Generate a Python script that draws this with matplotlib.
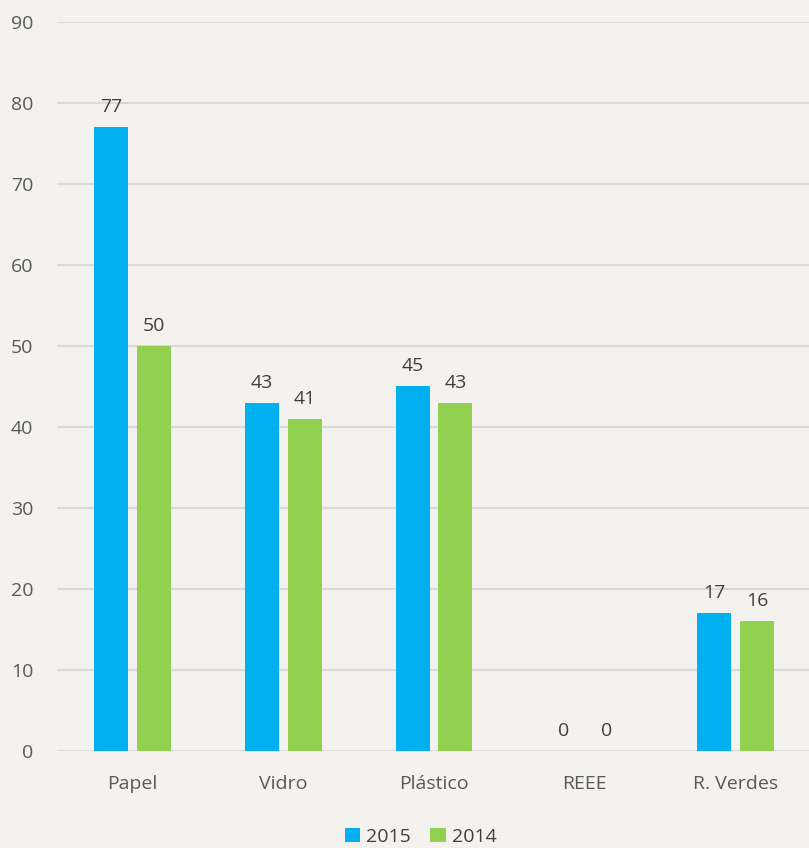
import matplotlib.pyplot as plt
import numpy as np

categories = ['Papel', 'Vidro', 'Plástico', 'REEE', 'R. Verdes']
values_2015 = [77, 43, 45, 0, 17]
values_2014 = [50, 41, 43, 0, 16]

BLUE = '#00b0f0'
GREEN = '#92d050'
BG = '#f4f2ee'
TEXT = '#595959'

plt.rcParams['font.family'] = ['Open Sans', 'DejaVu Sans']

fig = plt.figure(figsize=(8.09, 8.48), dpi=100, facecolor=BG)
ax = fig.add_axes([0.0705, 0.1144, 0.932, 0.8597], facecolor=BG)

x = np.arange(len(categories))
width = 0.225
offset = 0.142
bars1 = ax.bar(x - offset, values_2015, width, color=BLUE, label='2015', zorder=3)
bars2 = ax.bar(x + offset, values_2014, width, color=GREEN, label='2014', zorder=3)

for bars in (bars1, bars2):
    for b in bars:
        ax.annotate(f'{int(b.get_height())}', (b.get_x() + b.get_width() / 2, b.get_height()),
                    xytext=(0, 8), textcoords='offset points', ha='center', va='bottom',
                    fontsize=14, color='#404040')

ax.set_ylim(0, 90)
ax.set_xlim(-0.5, len(categories) - 0.5)
ax.set_yticks(range(0, 91, 10))
ax.set_xticks(x)
ax.set_xticklabels(categories)
ax.yaxis.grid(True, color='#d9d9d9', linewidth=1.5, zorder=0)
ax.tick_params(axis='both', length=0, labelsize=14, labelcolor=TEXT)
ax.tick_params(axis='x', pad=17)
ax.tick_params(axis='y', pad=17)
for s in ax.spines.values():
    s.set_visible(False)

fig.legend(loc='lower center', ncol=2, frameon=False, fontsize=14, handlelength=0.8,
           handleheight=0.8, handletextpad=0.3, columnspacing=1.0,
           bbox_to_anchor=(0.52, -0.018), labelcolor='#404040')

fig.savefig('out.png', dpi=100, facecolor=BG)
